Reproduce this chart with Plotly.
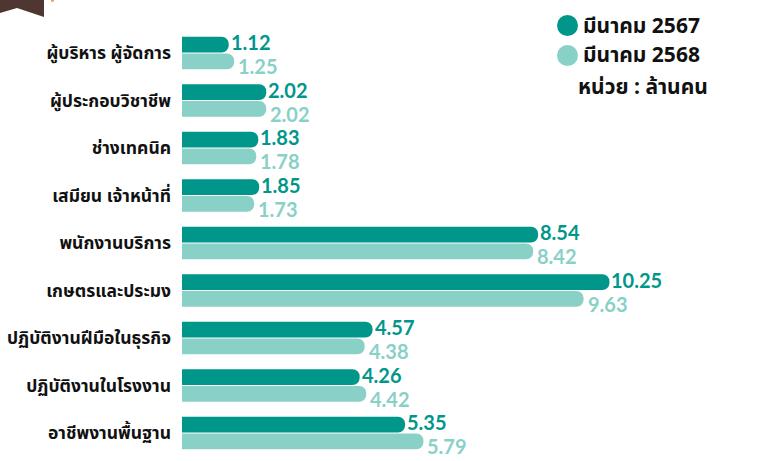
import plotly.graph_objects as go

categories = ["ผู้บริหาร ผู้จัดการ", "ผู้ประกอบวิชาชีพ", "ช่างเทคนิค", "เสมียน เจ้าหน้าที่",
              "พนักงานบริการ", "เกษตรและประมง", "ปฏิบัติงานฝีมือในธุรกิจ",
              "ปฏิบัติงานในโรงงาน", "อาชีพงานพื้นฐาน"]
series_names = ["มีนาคม 2567", "มีนาคม 2568"]
values_2567 = [1.12, 2.02, 1.83, 1.85, 8.54, 10.25, 4.57, 4.26, 5.35]
values_2568 = [1.25, 2.02, 1.78, 1.73, 8.42, 9.63, 4.38, 4.42, 5.79]
unit_label = "หน่วย : ล้านคน"

DARK = "#00978A"
LIGHT = "#89D1C7"
W, H = 757, 461
L, R, T, B = 182, 15, 26, 3
PW, PH = W - L - R, H - T - B

def px(x):
    return (x - L) / PW

def py(y):
    return 1 - (y - T) / PH

THAI_FONT = "Noto Sans Thai, Noto Sans, Lato, sans-serif"
NUM_FONT = "Lato, sans-serif"

fig = go.Figure()
for vals, col, name in [(values_2567, DARK, series_names[0]), (values_2568, LIGHT, series_names[1])]:
    fig.add_trace(go.Bar(
        y=categories, x=vals, orientation="h", name=name,
        marker=dict(color=col, line=dict(width=0), cornerradius="50%"),
        showlegend=False, hoverinfo="x+y",
    ))

annotations = []
# value labels placed next to each bar end, via the data axes
for vals, col, ysh, xsh in [(values_2567, DARK, 11, 0), (values_2568, LIGHT, -13, 2)]:
    for cat, v in zip(categories, vals):
        annotations.append(dict(
            x=v, y=cat, xref="x", yref="y", text=f"{v:.2f}", showarrow=False,
            xanchor="left", yanchor="middle", xshift=xsh, yshift=ysh,
            font=dict(family=NUM_FONT, size=20, color=col, weight="bold"),
        ))

shapes = [
    # brown ribbon decoration top-left
    dict(type="path", xref="paper", yref="paper",
         path=f"M {px(0)} {py(0)} L {px(44)} {py(0)} L {px(44)} {py(17)} L {px(17)} {py(8)} L {px(0)} {py(13)} Z",
         fillcolor="#4F3631", line=dict(width=0), layer="above"),
    dict(type="circle", xref="paper", yref="paper",
         x0=px(51), x1=px(54), y0=py(2), y1=py(-1),
         fillcolor="#F0A060", line=dict(width=0)),
    # legend circles
    dict(type="circle", xref="paper", yref="paper",
         x0=px(557), x1=px(578), y0=py(36), y1=py(15),
         fillcolor=DARK, line=dict(width=0)),
    dict(type="circle", xref="paper", yref="paper",
         x0=px(557), x1=px(578), y0=py(66), y1=py(45),
         fillcolor=LIGHT, line=dict(width=0)),
]

annotations += [
    dict(xref="paper", yref="paper", x=px(581), y=py(26), text=series_names[0],
         showarrow=False, xanchor="left", yanchor="middle",
         font=dict(family=THAI_FONT, size=21, color="#111111", weight="bold")),
    dict(xref="paper", yref="paper", x=px(581), y=py(56), text=series_names[1],
         showarrow=False, xanchor="left", yanchor="middle",
         font=dict(family=THAI_FONT, size=21, color="#111111", weight="bold")),
    dict(xref="paper", yref="paper", x=px(576), y=py(88), text=unit_label,
         showarrow=False, xanchor="left", yanchor="middle",
         font=dict(family=THAI_FONT, size=21, color="#111111", weight="bold")),
]

fig.update_layout(
    width=W, height=H, margin=dict(l=L, r=R, t=T, b=B, autoexpand=False),
    paper_bgcolor="white", plot_bgcolor="white",
    barmode="group", bargap=0.29, bargroupgap=0.06,
    shapes=shapes, annotations=annotations,
)
fig.update_xaxes(range=[0, PW / 41.7], visible=False, showgrid=False, zeroline=False,
                 automargin=False)
fig.update_yaxes(autorange="reversed", showgrid=False, zeroline=False, showline=False,
                 ticks="", ticklabelstandoff=10, automargin=False,
                 tickfont=dict(family=THAI_FONT, size=17.5, color="#111111", weight="bold"))

fig.write_html("out.html", config={"displayModeBar": False},
               post_script="document.body.style.margin='0';")
